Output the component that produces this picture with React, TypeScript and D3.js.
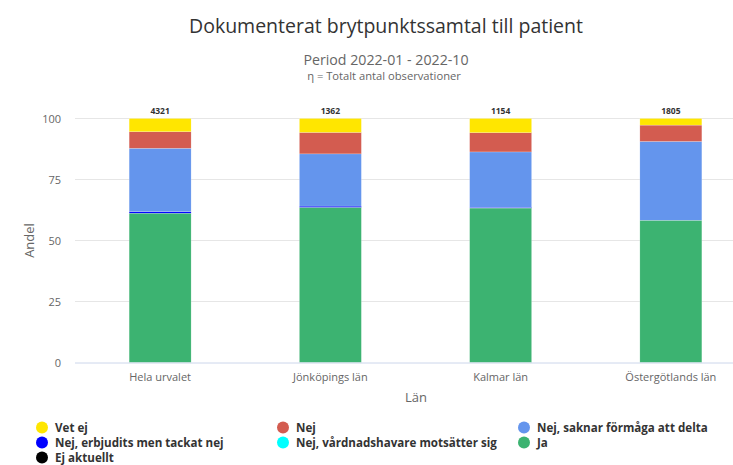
import React from "react";
import * as d3 from "d3";

const categories = ["Hela urvalet", "Jönköpings län", "Kalmar län", "Östergötlands län"];
const totals = [4321, 1362, 1154, 1805];
const seriesNames = [
  "Vet ej",
  "Nej",
  "Nej, saknar förmåga att delta",
  "Nej, erbjudits men tackat nej",
  "Nej, vårdnadshavare motsätter sig",
  "Ja",
  "Ej aktuellt",
];
const seriesColors = ["#ffe600", "#d35c50", "#6495ed", "#0000ff", "#00ffff", "#3cb371", "#000000"];
const vetEj = [5.4, 5.7, 5.8, 2.7];
const nej = [6.8, 8.8, 7.9, 6.7];
const saknar = [26.0, 21.4, 22.7, 32.3];
const erbjudits = [0.6, 0.5, 0.3, 0];
const vardnad = [0, 0, 0, 0];
const ja = [61.2, 63.6, 63.3, 58.3];
const ejAktuellt = [0, 0, 0, 0];
const yTicks = [0, 25, 50, 75, 100];

const seriesValues = [vetEj, nej, saknar, erbjudits, vardnad, ja, ejAktuellt];

export default function App() {
  const W = 733, H = 465;
  const left = 75, right = 756, top = 118.5, bottom = 362.5;
  const x = d3.scaleBand<string>().domain(categories).range([left, right]).padding(0);
  const y = d3.scaleLinear().domain([0, 100]).range([bottom, top]);
  const barW = x.bandwidth() * 0.364;

  const rows = categories.map((c, i) => {
    const r: any = { cat: c };
    seriesNames.forEach((s, k) => (r[s] = seriesValues[k][i]));
    return r;
  });
  const stackKeys = [...seriesNames].reverse();
  const stacked = d3.stack<any>().keys(stackKeys)(rows);

  const font = "'Open Sans', 'Noto Sans', sans-serif";
  const legendCols = [42, 283, 524];
  const legendRows = [427.5, 442.5, 457.5];

  return (
    <svg width={W} height={H} style={{ position: "absolute", left: 0, top: 0, background: "#fff" }} fontFamily={font}>
      <text x={386} y={33} textAnchor="middle" fontSize={19.5} fill="#333">
        Dokumenterat brytpunktssamtal till patient
      </text>
      <text x={386} y={65} textAnchor="middle" fontSize={14.2} fill="#666">
        Period 2022-01 - 2022-10
      </text>
      <text x={384} y={80} textAnchor="middle" fontSize={11.2} fill="#666">
        η = Totalt antal observationer
      </text>

      {yTicks.map((t) => (
        <g key={t}>
          {t !== 0 && <line x1={left} x2={right} y1={y(t)} y2={y(t)} stroke="#e6e6e6" strokeWidth={1} />}
          <text x={61} y={y(t) + 4} textAnchor="end" fontSize={11} fill="#666">
            {t}
          </text>
        </g>
      ))}
      <text transform={`translate(34,${(top + bottom) / 2}) rotate(-90)`} textAnchor="middle" fontSize={13} fill="#666">
        Andel
      </text>

      {stacked.map((layer) => {
        const name = layer.key;
        const color = seriesColors[seriesNames.indexOf(name)];
        return (
          <g key={name}>
            {layer.map((d, i) => {
              const v = d[1] - d[0];
              if (v <= 0) return null;
              const cx = (x(categories[i]) as number) + x.bandwidth() / 2;
              return (
                <rect
                  key={i}
                  x={cx - barW / 2}
                  y={y(d[1])}
                  width={barW}
                  height={y(d[0]) - y(d[1])}
                  fill={color}
                  stroke="#fff"
                  strokeOpacity={0.5}
                  strokeWidth={0.4}
                />
              );
            })}
          </g>
        );
      })}

      <line x1={left} x2={right} y1={bottom + 0.5} y2={bottom + 0.5} stroke="#ccd6eb" strokeWidth={1} />

      {categories.map((c, i) => {
        const cx = (x(c) as number) + x.bandwidth() / 2;
        return (
          <g key={c}>
            <text x={cx} y={381} textAnchor="middle" fontSize={11} fill="#666">
              {c}
            </text>
            <text x={cx} y={114} textAnchor="middle" fontSize={8.5} fontWeight="bold" fill="#333">
              {totals[i]}
            </text>
          </g>
        );
      })}
      <text x={416} y={402} textAnchor="middle" fontSize={13} fill="#666">
        Län
      </text>

      {seriesNames.map((s, k) => {
        const cx = legendCols[k % 3];
        const cy = legendRows[Math.floor(k / 3)];
        return (
          <g key={s}>
            <circle cx={cx} cy={cy} r={6} fill={seriesColors[k]} />
            <text x={cx + 13} y={cy + 4} fontSize={11.6} fontWeight="bold" fill="#333">
              {s}
            </text>
          </g>
        );
      })}
    </svg>
  );
}
